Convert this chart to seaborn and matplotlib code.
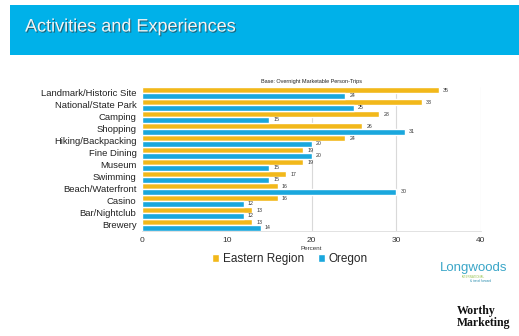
import matplotlib
matplotlib.use("Agg")
import matplotlib.pyplot as plt
import matplotlib.patheffects as pe
from matplotlib.patches import Rectangle
import pandas as pd
import seaborn as sns

activities = ["Landmark/Historic Site", "National/State Park", "Camping", "Shopping",
              "Hiking/Backpacking", "Fine Dining", "Museum", "Swimming",
              "Beach/Waterfront", "Casino", "Bar/Nightclub", "Brewery"]
eastern_region = [35, 33, 28, 26, 24, 19, 19, 17, 16, 16, 13, 13]
oregon = [24, 25, 15, 31, 20, 20, 15, 15, 30, 12, 12, 14]
series_names = ["Eastern Region", "Oregon"]
x_ticks = [0, 10, 20, 30, 40]

YELLOW = "#F2B81A"
BLUE = "#1AA7DD"

df = pd.DataFrame({
    "Activity": activities * 2,
    "Percent": eastern_region + oregon,
    "Region": [series_names[0]] * len(activities) + [series_names[1]] * len(activities),
})

sns.set_theme(style="white")
plt.rcParams["font.family"] = ["Liberation Sans", "DejaVu Sans"]

fig = plt.figure(figsize=(5.19, 3.36), dpi=100)
fig.patch.set_facecolor("white")

# Title banner
fig.patches.append(Rectangle((10 / 519, 1 - 55 / 336), 1 - 10 / 519, 50 / 336,
                             transform=fig.transFigure, facecolor="#00B1E9",
                             edgecolor="none", zorder=0))
fig.text(25 / 519, 1 - 27 / 336, "Activities and Experiences", color="#F4F4F4",
         fontsize=13, va="center", ha="left",
         path_effects=[pe.withSimplePatchShadow(offset=(0.8, -0.8), shadow_rgbFace="#333333", alpha=0.6)])

ax = fig.add_axes([142 / 519, 1 - 231 / 336, 339 / 519, 144 / 336])
sns.barplot(data=df, y="Activity", x="Percent", hue="Region", orient="h",
            palette=[YELLOW, BLUE], width=0.95, ax=ax, legend=False, saturation=1)

for container in ax.containers:
    ax.bar_label(container, labels=[f"{v:.0f}" for v in container.datavalues],
                 padding=3, fontsize=3.8, color="#333333")

ax.set_xlim(0, 40)
ax.set_xticks(x_ticks)
ax.set_xticklabels([str(t) for t in x_ticks], fontsize=6, color="#333333")
ax.tick_params(axis="x", length=0, pad=4)
ax.tick_params(axis="y", length=0, pad=4, labelsize=6.8, labelcolor="#222222")
ax.set_ylabel("")
ax.set_xlabel("Percent", fontsize=4.5, color="#333333", labelpad=2)
ax.xaxis.grid(True, color="#D9D9D9", linewidth=0.8)
ax.set_axisbelow(True)
for side in ["top", "right", "left"]:
    ax.spines[side].set_visible(False)
ax.spines["bottom"].set_color("#DDDDDD")
ax.spines["bottom"].set_linewidth(0.6)
ax.set_title("Base: Overnight Marketable Person-Trips", fontsize=4, color="#222222", pad=3)

# Legend
handles = [Rectangle((0, 0), 1, 1, facecolor=c) for c in (YELLOW, BLUE)]
fig.legend(handles, series_names, loc="center", bbox_to_anchor=(290 / 519, 1 - 259 / 336),
           ncol=2, frameon=False, fontsize=8.5, handlelength=0.6, handleheight=0.6,
           handletextpad=0.3, columnspacing=1.2)

# Logos
fig.text(440 / 519, 1 - 268 / 336, "Longwoods", color="#3AA6C8", fontsize=9.5,
         ha="left", va="center")
fig.text(462 / 519, 1 - 277 / 336, "INTERNATIONAL", color="#9CC65A", fontsize=2.2,
         ha="left", va="center")
fig.text(470 / 519, 1 - 281 / 336, "& travel forward", color="#2E8FB0", fontsize=2.2,
         ha="left", va="center")
fig.text(457 / 519, 1 - 317 / 336, "Worthy\nMarketing", color="#111111", fontsize=8.5,
         family=["Liberation Serif", "DejaVu Serif"], ha="left", va="center",
         linespacing=1.0, fontweight="bold")

fig.savefig("out.png", dpi=100, facecolor="white")
